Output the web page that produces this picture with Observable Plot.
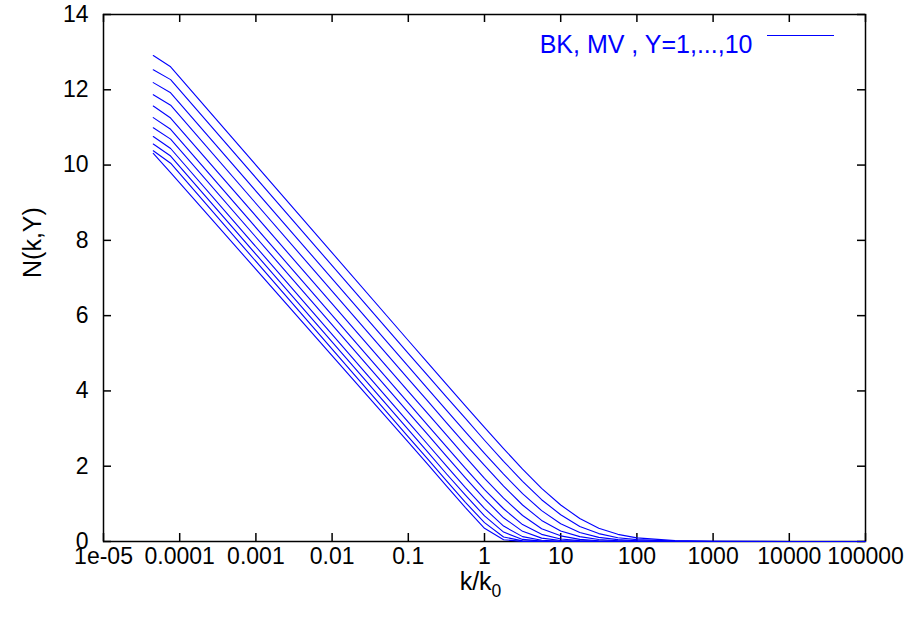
<!DOCTYPE html>
<html>
<head>
<meta charset="utf-8">
<script src="https://cdn.jsdelivr.net/npm/d3@7"></script>
<script src="https://cdn.jsdelivr.net/npm/@observablehq/plot@0.6"></script>
<style>
  html, body { margin: 0; padding: 0; background: #ffffff; }
  #chart { width: 907px; height: 619px; }
</style>
</head>
<body>
<div id="chart"></div>
<script>
// k/k0 sample points (log grid)
const kValues = [4.5e-5, 7.6e-5, 0.1, 0.178, 0.316, 0.562, 1, 1.78, 3.16, 5.62, 10, 17.8, 31.6, 56.2, 100, 316, 1000, 1e4, 1e5];

// N(k,Y), one array per curve (bottom to top)
const N_Y0  = [10.31, 9.80, 2.64, 2.06, 1.48, 0.90, 0.35, 0.046, 0.0028, 0.0002, 0, 0, 0, 0, 0, 0, 0, 0, 0];
const N_Y1  = [10.38, 10.05, 2.78, 2.20, 1.62, 1.04, 0.50, 0.12, 0.016, 0.0018, 0.0002, 0, 0, 0, 0, 0, 0, 0, 0];
const N_Y2  = [10.56, 10.24, 2.97, 2.39, 1.80, 1.23, 0.68, 0.25, 0.056, 0.0098, 0.0016, 0.0003, 0, 0, 0, 0, 0, 0, 0];
const N_Y3  = [10.76, 10.44, 3.17, 2.59, 2.01, 1.43, 0.88, 0.41, 0.13, 0.033, 0.0075, 0.0016, 0.0003, 0, 0, 0, 0, 0, 0];
const N_Y4  = [10.99, 10.69, 3.43, 2.85, 2.27, 1.69, 1.13, 0.63, 0.27, 0.090, 0.026, 0.0071, 0.0019, 0.0005, 0, 0, 0, 0, 0];
const N_Y5  = [11.26, 10.95, 3.68, 3.10, 2.52, 1.94, 1.38, 0.87, 0.45, 0.19, 0.066, 0.022, 0.0068, 0.0021, 0.0007, 0, 0, 0, 0];
const N_Y6  = [11.57, 11.25, 3.99, 3.41, 2.83, 2.25, 1.68, 1.15, 0.69, 0.34, 0.15, 0.057, 0.021, 0.0074, 0.0026, 0.0003, 0, 0, 0];
const N_Y7  = [11.87, 11.59, 4.32, 3.74, 3.16, 2.58, 2.02, 1.47, 0.97, 0.56, 0.28, 0.13, 0.053, 0.021, 0.0084, 0.0013, 0.0002, 0, 0];
const N_Y8  = [12.19, 11.92, 4.65, 4.07, 3.49, 2.91, 2.34, 1.79, 1.27, 0.82, 0.47, 0.24, 0.11, 0.049, 0.021, 0.0039, 0.0007, 0, 0];
const N_Y9  = [12.53, 12.27, 5.00, 4.42, 3.84, 3.27, 2.69, 2.13, 1.60, 1.11, 0.71, 0.40, 0.21, 0.10, 0.049, 0.011, 0.0022, 0.0001, 0];
const N_Y10 = [12.91, 12.61, 5.34, 4.76, 4.18, 3.60, 3.03, 2.47, 1.92, 1.41, 0.97, 0.61, 0.35, 0.19, 0.096, 0.023, 0.0055, 0.0003, 0];

const seriesNames = ["Y0", "Y1", "Y2", "Y3", "Y4", "Y5", "Y6", "Y7", "Y8", "Y9", "Y10"];
const seriesValues = [N_Y0, N_Y1, N_Y2, N_Y3, N_Y4, N_Y5, N_Y6, N_Y7, N_Y8, N_Y9, N_Y10];

const xTicks = [1e-5, 1e-4, 1e-3, 1e-2, 1e-1, 1, 10, 100, 1000, 10000, 100000];
const xTickLabels = ["1e-05", "0.0001", "0.001", "0.01", "0.1", "1", "10", "100", "1000", "10000", "100000"];
const yTicks = [0, 2, 4, 6, 8, 10, 12, 14];

const legendLabel = "BK, MV , Y=1,...,10";
const xLabelMain = "k/k";
const xLabelSub = "0";
const yLabel = "N(k,Y)";

const W = 907, H = 619;
const mL = 103, mR = 42, mT = 14, mB = 78;
const innerW = W - mL - mR, innerH = H - mT - mB;
const tickLen = 8;
const blue = "#0000ff";
const fs = 23;
const fsTitle = 25;

const rows = [];
seriesNames.forEach((name, s) => {
  kValues.forEach((k, i) => rows.push({series: name, k, N: seriesValues[s][i]}));
});

const chart = Plot.plot({
  width: W,
  height: H,
  marginLeft: mL,
  marginRight: mR,
  marginTop: mT,
  marginBottom: mB,
  style: {fontFamily: "'Liberation Sans', Arial, sans-serif", fontSize: fs + "px", background: "#ffffff", color: "#000000"},
  x: {type: "log", domain: [1e-5, 1e5]},
  y: {domain: [0, 14]},
  marks: [
    Plot.frame({stroke: "#000000", strokeWidth: 1.5}),
    // inward ticks on all four sides
    Plot.ruleX(xTicks, {x: d => d, insetTop: innerH - tickLen, stroke: "#000000", strokeWidth: 1.5}),
    Plot.ruleX(xTicks, {x: d => d, insetBottom: innerH - tickLen, stroke: "#000000", strokeWidth: 1.5}),
    Plot.ruleY(yTicks, {y: d => d, insetRight: innerW - tickLen, stroke: "#000000", strokeWidth: 1.5}),
    Plot.ruleY(yTicks, {y: d => d, insetLeft: innerW - tickLen, stroke: "#000000", strokeWidth: 1.5}),
    Plot.axisX({ticks: xTicks, tickFormat: d => xTickLabels[xTicks.indexOf(d)], tickSize: 0, tickPadding: 6, label: null, fontSize: fs}),
    Plot.axisY({ticks: yTicks, tickFormat: d => String(d), tickSize: 0, tickPadding: 15, label: null, fontSize: fs}),
    Plot.text([xLabelMain], {frameAnchor: "bottom", dy: 48, dx: -4, text: d => d, fontSize: fsTitle, className: "xlabel"}),
    Plot.text([yLabel], {frameAnchor: "left", dx: -71, rotate: -90, text: d => d, fontSize: fsTitle}),
    Plot.line(rows, {x: "k", y: "N", z: "series", stroke: blue, strokeWidth: 1.1}),
    Plot.text([legendLabel], {frameAnchor: "top-right", dx: -113, dy: 21, textAnchor: "end", text: d => d, fill: blue, fontSize: fsTitle}),
    Plot.ruleY([14], {y: d => d, insetLeft: 664, insetRight: 31, dy: 21, stroke: blue, strokeWidth: 1.2})
  ]
});

// add the subscript 0 to the x-axis label
d3.select(chart).selectAll("g.xlabel text").each(function() {
  const t = d3.select(this);
  t.append("tspan").attr("dy", "0.4em").attr("font-size", "0.7em").text(xLabelSub);
});

document.getElementById("chart").appendChild(chart);
</script>
</body>
</html>
